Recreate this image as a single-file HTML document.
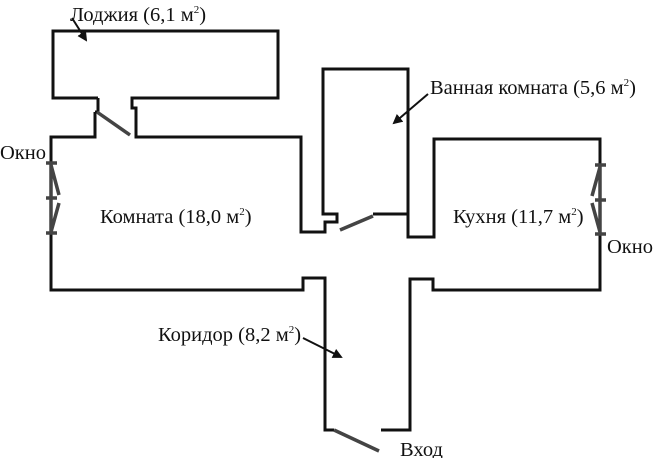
<!DOCTYPE html>
<html><head><meta charset="utf-8"><style>
html,body{margin:0;padding:0;background:#fff;}
svg{display:block}
text{font-family:"Liberation Serif",serif;font-size:20.5px;fill:#111}
</style></head><body>
<svg width="655" height="458" viewBox="0 0 655 458" xmlns="http://www.w3.org/2000/svg">
<defs><marker id="a" viewBox="0 0 10 10" refX="8" refY="5" markerWidth="5" markerHeight="5" orient="auto"><path d="M0,0L10,5L0,10z" fill="#111"/></marker></defs>
<g fill="none" stroke="#111" stroke-width="3">
<path d="M98,98H53V31H278V98H132V108H136V137H301V232H325V222H337V214H323V69H408V214H373"/>
<path d="M95,112V137H51V290H303V278H325V430H334"/>
<path d="M408,214V237H434V139H600V290H433V279H410V430H381"/>
<path d="M98,98V112H95"/>
</g>
<g stroke="#444" stroke-width="3.5" fill="none">
<line x1="97" y1="112" x2="130" y2="135"/>
<line x1="340" y1="230" x2="373" y2="216"/>
<line x1="334" y1="430" x2="379" y2="451"/>
<path d="M51,163V233M46,163H57M46,198H57M46,233H57M51,165L59,195M59,203L51,232"/>
<path d="M600,165V234M595,165H606M595,200H606M595,234H606M600,167L592,196M592,203L600,232"/>
</g>
<g stroke="#111" stroke-width="2" fill="none">
<line x1="72" y1="18" x2="86" y2="40" marker-end="url(#a)"/>
<line x1="428" y1="94" x2="394" y2="123" marker-end="url(#a)"/>
<line x1="303" y1="338" x2="341" y2="357" marker-end="url(#a)"/>
</g>
<text x="70" y="21">Лоджия (6,1 м<tspan font-size="11" dy="-8">2</tspan><tspan dy="8">)</tspan></text>
<text x="0" y="159">Окно</text>
<text x="100" y="223">Комната (18,0 м<tspan font-size="11" dy="-8">2</tspan><tspan dy="8">)</tspan></text>
<text x="430" y="94">Ванная комната (5,6 м<tspan font-size="11" dy="-8">2</tspan><tspan dy="8">)</tspan></text>
<text x="453" y="223">Кухня (11,7 м<tspan font-size="11" dy="-8">2</tspan><tspan dy="8">)</tspan></text>
<text x="607" y="253">Окно</text>
<text x="158" y="341">Коридор (8,2 м<tspan font-size="11" dy="-8">2</tspan><tspan dy="8">)</tspan></text>
<text x="400" y="456">Вход</text>
</svg>
</body></html>
